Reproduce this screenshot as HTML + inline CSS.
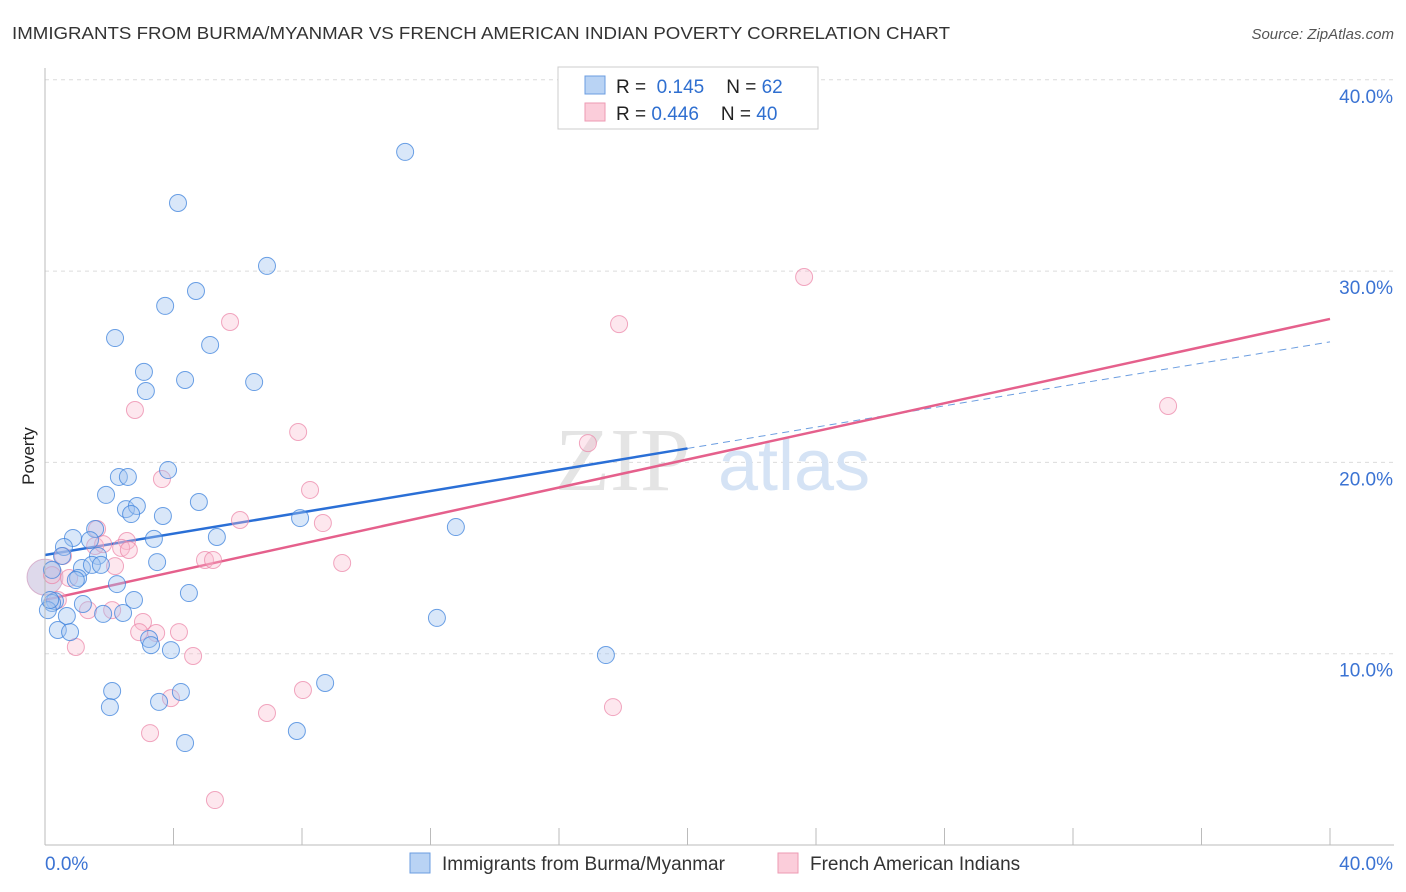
<!DOCTYPE html>
<html><head><meta charset="utf-8"><style>
body{margin:0;background:#fff;font-family:"Liberation Sans",sans-serif}
#c{position:absolute;left:0;top:0}
</style></head><body>
<svg id="c" width="1406" height="892">
<text x="12" y="39" font-size="17.5" fill="#333" textLength="938" lengthAdjust="spacingAndGlyphs">IMMIGRANTS FROM BURMA/MYANMAR VS FRENCH AMERICAN INDIAN POVERTY CORRELATION CHART</text>
<text x="1394" y="39" font-size="15" fill="#555" font-style="italic" text-anchor="end">Source: ZipAtlas.com</text>
<text x="34" y="456" font-size="17" fill="#222" text-anchor="middle" transform="rotate(-90 34 456)">Poverty</text>
<g id="grid"></g>
<g id="wm">
<text x="555" y="490" font-size="90" fill="#e4e4e4" font-family="Liberation Serif,serif">ZIP</text>
<text x="718" y="490" font-size="72" fill="#d5e3f5">atlas</text>
</g>
<g id="lines"></g>
<g id="pts"></g>
<g id="axes"></g>
<g>
<rect x="558" y="67" width="260" height="62" fill="#fff" stroke="#ccc"/>
<rect x="585" y="76" width="20" height="18" fill="#b9d3f4" stroke="#6b9de0"/>
<rect x="585" y="103" width="20" height="18" fill="#fbcdda" stroke="#ee9ab3"/>
<text x="616" y="93" font-size="19" fill="#222">R = <tspan fill="#2f6fd0">&#160;0.145</tspan><tspan dx="22">N = </tspan><tspan fill="#2f6fd0"> 62</tspan></text>
<text x="616" y="120" font-size="19" fill="#222">R = <tspan fill="#2f6fd0">0.446</tspan><tspan dx="22">N = </tspan><tspan fill="#2f6fd0"> 40</tspan></text>
</g>
<g>
<rect x="410" y="853" width="20" height="20" fill="#b9d3f4" stroke="#6b9de0"/>
<text x="442" y="870" font-size="19" fill="#333">Immigrants from Burma/Myanmar</text>
<rect x="778" y="853" width="20" height="20" fill="#fbcdda" stroke="#ee9ab3"/>
<text x="810" y="870" font-size="19" fill="#333">French American Indians</text>
</g>
</svg>
<script>
const blueX=[11.21,4.14,6.91,4.70,3.74,5.14,2.18,3.08,4.36,3.14,6.51,3.83,2.30,2.58,1.90,4.79,2.52,2.86,2.68,3.67,7.94,12.79,1.56,0.87,3.39,5.35,0.59,1.40,0.53,1.65,3.49,1.15,1.46,1.74,1.03,0.96,2.24,4.48,2.77,0.31,0.22,1.18,1.81,2.43,0.68,12.20,0.40,0.78,3.24,3.30,3.92,17.46,8.72,2.09,4.23,2.02,3.55,7.84,4.36,0.09,0.16,0.22];
const blueY=[36.23,33.56,30.27,28.96,28.18,26.14,26.50,24.73,24.31,23.73,24.20,19.60,19.24,19.24,18.30,17.93,17.56,17.72,17.30,17.20,17.09,16.62,16.52,16.05,16.00,16.10,15.58,15.94,15.11,15.11,14.79,14.48,14.64,14.64,13.96,13.85,13.64,13.17,12.81,12.75,12.65,12.60,12.08,12.13,11.97,11.87,11.24,11.13,10.77,10.45,10.19,9.93,8.47,8.05,8.00,7.21,7.48,5.96,5.33,12.28,12.81,14.38];
const pinkX=[23.63,5.76,17.87,2.80,34.96,7.88,16.90,3.64,8.25,6.07,8.65,1.62,2.55,1.56,1.81,2.37,2.61,0.56,9.25,4.98,5.23,2.18,0.22,0.75,1.34,2.09,3.05,2.93,3.46,4.17,0.96,4.61,8.03,3.92,6.91,17.68,3.27,5.29,0.40];
const pinkY=[29.69,27.34,27.23,22.74,22.95,21.59,21.01,19.13,18.56,16.99,16.83,16.52,15.89,15.63,15.73,15.53,15.42,15.11,14.74,14.90,14.90,14.58,14.11,13.96,12.28,12.28,11.66,11.13,11.08,11.13,10.35,9.88,8.10,7.68,6.90,7.21,5.85,2.35,12.81];
const blueTrend=[15.16,26.3];
const pinkTrend=[12.81,27.5];
const yTicks=[10,20,30,40];
const yTickLabels=["10.0%","20.0%","30.0%","40.0%"];
const ns="http://www.w3.org/2000/svg";
const X=v=>45+v*32.125, Y=v=>845-v*19.13;
function mk(t,a,p){const e=document.createElementNS(ns,t);for(const k in a)e.setAttribute(k,a[k]);p.appendChild(e);return e;}
const grid=document.getElementById('grid'),axes=document.getElementById('axes');
yTicks.forEach((t,i)=>{
 const l=mk('line',{x1:45,x2:1394,y1:Y(t),y2:Y(t),stroke:'#dcdcdc','stroke-dasharray':'4,4'},grid);
 
 
 const tx=mk('text',{x:1393,y:Y(t)+23,'font-size':19,fill:'#3b73d3','text-anchor':'end'},axes);
 tx.textContent=yTickLabels[i];
 
 
});
mk('line',{x1:45,x2:45,y1:68,y2:845,stroke:'#bbb'},axes);
mk('line',{x1:45,x2:1394,y1:845,y2:845,stroke:'#bbb'},axes);
for(let i=1;i<=10;i++){mk('line',{x1:X(i*4),x2:X(i*4),y1:828,y2:845,stroke:'#bbb'},axes);}
let t0=mk('text',{x:45,y:870,'font-size':19,fill:'#3b73d3'},axes);t0.textContent='0.0%';


let t1=mk('text',{x:1393,y:870,'font-size':19,fill:'#3b73d3','text-anchor':'end'},axes);t1.textContent='40.0%';


const pts=document.getElementById('pts');
let big=mk('circle',{cx:X(0),cy:Y(14.0),r:18,fill:'rgba(190,180,215,0.5)',stroke:'rgba(200,140,180,0.6)'},pts);


pinkX.forEach((x,i)=>{const c=mk('circle',{cx:X(x),cy:Y(pinkY[i]),r:8.5,fill:'rgba(248,187,205,0.35)',stroke:'rgba(235,130,165,0.7)','stroke-width':1},pts);
 
 });
blueX.forEach((x,i)=>{const c=mk('circle',{cx:X(x),cy:Y(blueY[i]),r:8.5,fill:'rgba(160,196,240,0.4)',stroke:'rgba(60,130,220,0.75)','stroke-width':1},pts);
 
 });
const lines=document.getElementById('lines');
const by=x=>blueTrend[0]+(blueTrend[1]-blueTrend[0])*x/40;
let b1=mk('line',{x1:X(0),y1:Y(by(0)),x2:X(20),y2:Y(by(20)),stroke:'#2a6fd6','stroke-width':2.5},lines);


let b2=mk('line',{x1:X(20),y1:Y(by(20)),x2:X(40),y2:Y(by(40)),stroke:'#6b9de0','stroke-width':1,'stroke-dasharray':'7,5'},lines);


let p1=mk('line',{x1:X(0),y1:Y(pinkTrend[0]),x2:X(40),y2:Y(pinkTrend[1]),stroke:'#e5608c','stroke-width':2.5},lines);


</script>
</body></html>
